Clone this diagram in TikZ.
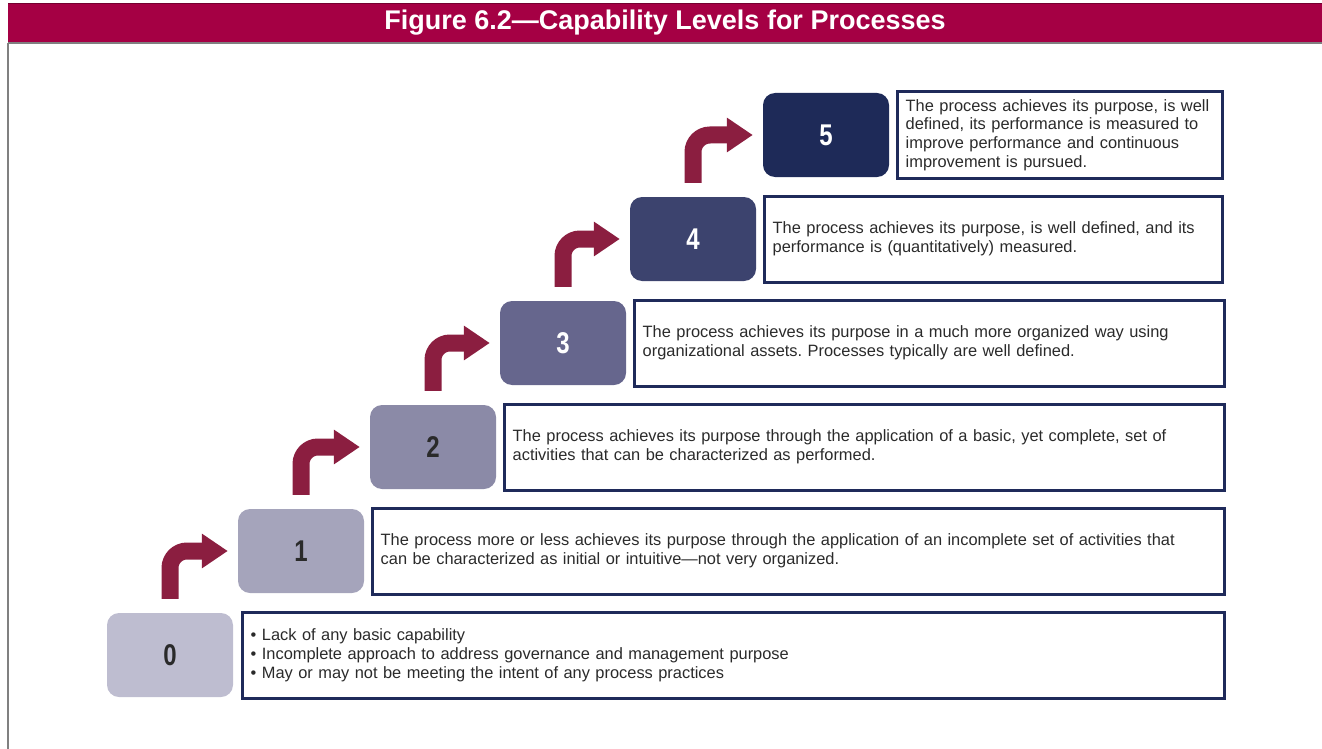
\documentclass[tikz,border=0pt]{standalone}
\usepackage{fontspec}
\setmainfont{Liberation Sans}
\newfontfamily\condfont[FakeStretch=0.8]{Liberation Sans}
\usetikzlibrary{arrows.meta, positioning}
\frenchspacing

\definecolor{figred}{HTML}{A50044}
\definecolor{arrowred}{HTML}{8B1E40}
\definecolor{navy}{HTML}{1F2A5A}
\definecolor{textgray}{HTML}{2A2A2A}
\definecolor{lvlcol0}{HTML}{BEBDD0}
\definecolor{lvlcol1}{HTML}{A5A4BB}
\definecolor{lvlcol2}{HTML}{8B8AA7}
\definecolor{lvlcol3}{HTML}{66668D}
\definecolor{lvlcol4}{HTML}{3C436E}
\definecolor{lvlcol5}{HTML}{1E2A58}

\begin{document}
\begin{tikzpicture}[x=1pt, y=-1pt,
    lvl/.style={rounded corners=12pt, minimum width=126pt, minimum height=84pt,
      font=\condfont\fontsize{30}{32}\selectfont\bfseries},
    desc/.style={draw=navy, line width=3pt, minimum height=86pt, inner xsep=8pt,
      align=left, text=textgray, font=\fontsize{16.4}{18.8}\selectfont},
    stair/.style={draw=arrowred, line width=17pt, rounded corners=17pt,
      -{Triangle[length=26pt, width=33pt]}}]
  \useasboundingbox (0,0) rectangle (1322,749);

  % title bar and frame
  \fill[figred] (8,4) rectangle (1322,43);
  \draw[figred!70!black, line width=1pt] (8,4) -- (1322,4);
  \draw[gray, line width=1.2pt] (8,43) -- (1322,43);
  \draw[gray, line width=1.2pt] (8,43) -- (8,749);
  \node[text=white, font=\fontsize{27}{30}\selectfont\bfseries] (title) at (665,23)
    {Figure 6.2—Capability Levels for Processes};

  % level boxes
  \node[lvl, fill=lvlcol0, text=textgray] (lvl0) at (170,655) {0};
  \node[lvl, fill=lvlcol1, text=textgray] (lvl1) at (301,551) {1};
  \node[lvl, fill=lvlcol2, text=textgray] (lvl2) at (433,447) {2};
  \node[lvl, fill=lvlcol3, text=white] (lvl3) at (563,343) {3};
  \node[lvl, fill=lvlcol4, text=white] (lvl4) at (693,239) {4};
  \node[lvl, fill=lvlcol5, text=white] (lvl5) at (826,135) {5};

  % descriptions
  \node[desc, text width=966pt, right=8pt of lvl0] (desc0)
    {• Lack of any basic capability\\
     • Incomplete approach to address governance and management purpose\\
     • May or may not be meeting the intent of any process practices};
  \node[desc, text width=836pt, right=7pt of lvl1] (desc1)
    {The process more or less achieves its purpose through the application of an incomplete set of activities that\\
     can be characterized as initial or intuitive—not very organized.};
  \node[desc, text width=704pt, right=7pt of lvl2] (desc2)
    {The process achieves its purpose through the application of a basic, yet complete, set of\\
     activities that can be characterized as performed.};
  \node[desc, text width=574pt, right=7pt of lvl3] (desc3)
    {The process achieves its purpose in a much more organized way using\\
     organizational assets. Processes typically are well defined.};
  \node[desc, text width=442pt, right=7pt of lvl4] (desc4)
    {The process achieves its purpose, is well defined, and its\\
     performance is (quantitatively) measured.};
  \node[desc, text width=309pt, right=7pt of lvl5] (desc5)
    {The process achieves its purpose, is well\\
     defined, its performance is measured to\\
     improve performance and continuous\\
     improvement is pursued.};

  % stair arrows
  \foreach \i [evaluate=\i as \j using int(\i+1)] in {0,...,4}
    \draw[stair] ([yshift=14pt]lvl\i.north) |- ([xshift=-10pt]lvl\j.west);
\end{tikzpicture}
\end{document}
